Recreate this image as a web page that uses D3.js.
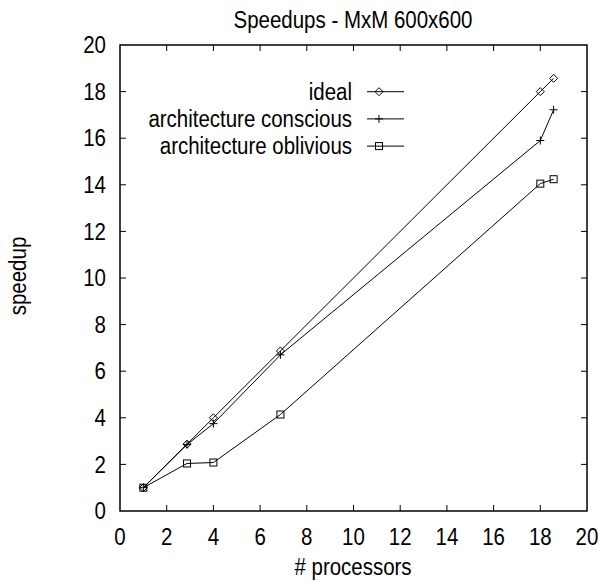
<!DOCTYPE html>
<html><head><meta charset="utf-8">
<script src="https://cdn.jsdelivr.net/npm/d3@7"></script>
<style>body{margin:0;background:#fff}svg{display:block}text{font-family:"Liberation Sans",Arial,sans-serif;fill:#000}</style>
</head><body><svg id="c" width="602" height="582"></svg>
<script>
const title = "Speedups - MxM 600x600";
const xLabel = "# processors";
const yLabel = "speedup";
const xTicks = [0,2,4,6,8,10,12,14,16,18,20];
const yTicks = [0,2,4,6,8,10,12,14,16,18,20];
const seriesNames = ["ideal","architecture conscious","architecture oblivious"];
const processors = [1, 2.87, 4, 6.87, 18, 18.57];
const idealValues = [1, 2.87, 4, 6.87, 18, 18.57];
const consciousValues = [1, 2.85, 3.75, 6.7, 15.9, 17.22];
const obliviousValues = [1, 2.04, 2.08, 4.14, 14.05, 14.24];
const markers = ["diamond","plus","square"];

const svg = d3.select("#c");
const L=120, R=587, T=45, B=511;
const x = d3.scaleLinear().domain([0,20]).range([L,R]);
const y = d3.scaleLinear().domain([0,20]).range([B,T]);
const FS = 23, SX = 0.89;

function txt(g, xx, yy, s, anchor, opts={}) {
  const t = g.append("text")
    .attr("transform", `translate(${xx},${yy})` + (opts.rot ? ` rotate(${opts.rot})` : "") + ` scale(${SX},1)`)
    .attr("text-anchor", anchor).attr("font-size", opts.fs||FS).text(s);
  if (opts.dy) t.attr("dy", opts.dy);
  return t;
}

// ticks (inward, mirrored)
const tl = 6;
const tg = svg.append("g").attr("stroke","#000").attr("stroke-width",1);
xTicks.forEach(v=>{
  if (v>0 && v<20){
    tg.append("line").attr("x1",x(v)).attr("x2",x(v)).attr("y1",B).attr("y2",B-tl);
    tg.append("line").attr("x1",x(v)).attr("x2",x(v)).attr("y1",T).attr("y2",T+tl);
  }
  txt(svg, x(v), 545, String(v), "middle");
});
yTicks.forEach(v=>{
  if (v>0 && v<20){
    tg.append("line").attr("y1",y(v)).attr("y2",y(v)).attr("x1",L).attr("x2",L+tl);
    tg.append("line").attr("y1",y(v)).attr("y2",y(v)).attr("x1",R).attr("x2",R-tl);
  }
  txt(svg, 106, y(v), String(v), "end", {dy:"0.36em"});
});
// frame
svg.append("rect").attr("x",L).attr("y",T).attr("width",R-L).attr("height",B-T)
  .attr("fill","none").attr("stroke","#000").attr("stroke-width",1.5);

// labels
txt(svg, 353, 28, title, "middle");
txt(svg, 353, 575, xLabel, "middle");
txt(svg, 26, 276, yLabel, "middle", {rot:-90});

function drawMarker(g, type, cx, cy){
  if (type==="diamond"){
    g.append("path").attr("d",`M${cx},${cy-4}L${cx+4},${cy}L${cx},${cy+4}L${cx-4},${cy}Z`)
     .attr("fill","none").attr("stroke","#000").attr("stroke-width",1);
  } else if (type==="plus"){
    g.append("path").attr("d",`M${cx-4},${cy}H${cx+4}M${cx},${cy-4}V${cy+4}`)
     .attr("fill","none").attr("stroke","#000").attr("stroke-width",1);
  } else {
    g.append("rect").attr("x",cx-3.5).attr("y",cy-3.5).attr("width",7).attr("height",7)
     .attr("fill","none").attr("stroke","#000").attr("stroke-width",1);
  }
}

const allSeries = [idealValues, consciousValues, obliviousValues];
const line = d3.line().x(d=>x(d[0])).y(d=>y(d[1]));
allSeries.forEach((vals,i)=>{
  const pts = processors.map((p,j)=>[p, vals[j]]);
  const g = svg.append("g");
  g.append("path").attr("d", line(pts)).attr("fill","none").attr("stroke","#000").attr("stroke-width",1);
  pts.forEach(p=>drawMarker(g, markers[i], x(p[0]), y(p[1])));
  // legend
  const ly = 91.7 + i*27.2;
  txt(svg, 352, ly, seriesNames[i], "end", {dy:"0.36em"});
  g.append("line").attr("x1",367).attr("x2",404).attr("y1",ly).attr("y2",ly).attr("stroke","#000").attr("stroke-width",1);
  drawMarker(g, markers[i], 379, ly);
});
</script></body></html>
